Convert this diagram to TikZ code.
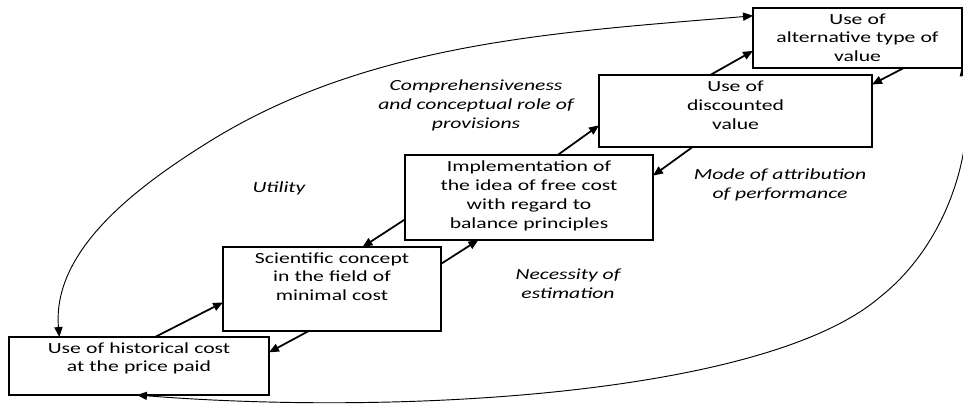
\documentclass[tikz,border=0pt]{standalone}
\usepackage{fontspec}
\setmainfont{Carlito}[FakeStretch=1.4]
\usetikzlibrary{arrows.meta, positioning}

\begin{document}
\begin{tikzpicture}[x=0.03cm, y=-0.03cm,
  box/.style={draw, line width=1.1pt, inner sep=0pt, outer sep=0pt, anchor=north west},
  boxtext/.style={anchor=base, align=center, inner sep=0pt, font=\fontsize{13.2}{16.2}\selectfont},
  note/.style={align=center, inner sep=0pt, font=\fontsize{13.2}{16.2}\selectfont\itshape},
  link/.style={-{Triangle[length=8.5pt, width=7pt]}, line width=1.5pt},
  backarc/.style={{Triangle[length=8.5pt, width=7pt]}-{Triangle[length=8.5pt, width=7pt]}, line width=0.8pt}]
  \useasboundingbox (0,0) rectangle (963,407);

  % boxes
  \node[box, minimum width=7.8cm, minimum height=1.74cm] (hist) at (9,337) {};
  \node[box, minimum width=6.54cm, minimum height=2.52cm] (sci) at (223,247) {};
  \node[box, minimum width=7.44cm, minimum height=2.55cm] (impl) at (405,155) {};
  \node[box, minimum width=8.19cm, minimum height=2.16cm] (disc) at (599,75) {};
  \node[box, minimum width=6.27cm, minimum height=1.8cm] (alt) at (753,8) {};

  % box texts
  \node[boxtext, text width=7.8cm] (histtext) at ([yshift=-0.48cm]hist.north) {Use of historical cost\\at the price paid};
  \node[boxtext, text width=6.54cm] (scitext) at ([yshift=-0.48cm]sci.north) {Scientific concept\\in the field of\\minimal cost};
  \node[boxtext, text width=7.44cm] (impltext) at ([yshift=-0.5cm]impl.north) {Implementation of\\the idea of free cost\\with regard to\\balance principles};
  \node[boxtext, text width=8.19cm] (disctext) at ([yshift=-0.5cm]disc.north) {Use of\\discounted\\value};
  \node[boxtext, text width=6.27cm] (alttext) at ([yshift=-0.48cm]alt.north) {Use of\\alternative type of\\value};

  % labels
  \node[note] (comp) at (476,105) {Comprehensiveness\\and conceptual role of\\provisions};
  \node[note] (util) at (279,188) {Utility};
  \node[note] (mode) at (780,185) {Mode of attribution\\of performance};
  \node[note] (need) at (568,284) {Necessity of\\estimation};

  % steps up and down
  \draw[link] (hist.61) -- (sci.187);
  \draw[link] (sci.241) -- (hist.6);
  \draw[link] (sci.13) -- (impl.220);
  \draw[link] (impl.190) -- (sci.54);
  \draw[link] (impl.56) -- (disc.186);
  \draw[link] (disc.220) -- (impl.10);
  \draw[link] (disc.125) -- (alt.187);
  \draw[link] (alt.-33) -- (disc.11);

  % outer arcs
  \draw[backarc] (alt.168) .. controls (560,32) and (368,42) .. (207,143)
    .. controls (135,188) and (52,251) .. (hist.160);
  \draw[backarc] (alt.-15) .. controls (978,150) and (946,245) .. (880,297)
    .. controls (766,395) and (400,416) .. (hist.266);
\end{tikzpicture}
\end{document}
